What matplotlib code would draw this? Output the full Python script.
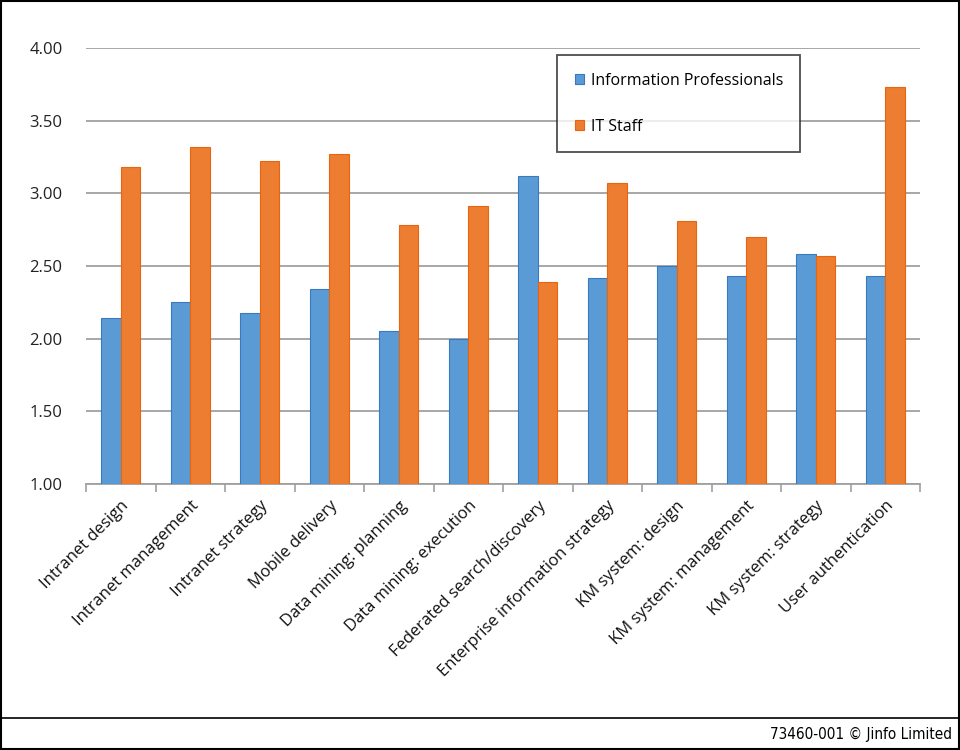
import matplotlib.pyplot as plt
import numpy as np
from matplotlib.lines import Line2D
from matplotlib.patches import Rectangle

plt.rcParams['font.family'] = ['Open Sans', 'DejaVu Sans']

categories = ['Intranet design', 'Intranet management', 'Intranet strategy',
              'Mobile delivery', 'Data mining: planning', 'Data mining: execution',
              'Federated search/discovery', 'Enterprise information strategy',
              'KM system: design', 'KM system: management', 'KM system: strategy',
              'User authentication']
info_pros = [2.14, 2.25, 2.18, 2.34, 2.05, 2.00, 3.12, 2.42, 2.50, 2.43, 2.58, 2.43]
it_staff = [3.18, 3.32, 3.22, 3.27, 2.78, 2.91, 2.39, 3.07, 2.81, 2.70, 2.57, 3.73]
yticks = [1.0, 1.5, 2.0, 2.5, 3.0, 3.5, 4.0]

blue = '#5B9BD5'
orange = '#ED7D31'

fig = plt.figure(figsize=(9.6, 7.5), dpi=100)
ax = fig.add_axes([86/960, 1-484/750, (920-86)/960, (484-48)/750])

x = np.arange(len(categories))
w = 0.28
ax.bar(x - w/2, np.array(info_pros) - 1, w, bottom=1, color=blue,
       edgecolor='#3A78C0', linewidth=0.8, label='Information Professionals', zorder=3)
ax.bar(x + w/2, np.array(it_staff) - 1, w, bottom=1, color=orange,
       edgecolor='#E8650F', linewidth=0.8, label='IT Staff', zorder=3)

ax.set_xlim(-0.5, len(categories) - 0.5)
ax.set_ylim(1, 4)
ax.set_yticks(yticks)
ax.set_yticklabels(['%.2f' % v for v in yticks], fontsize=12, color='#222222')
ax.tick_params(axis='y', length=0, pad=17)
ax.yaxis.grid(True, color='#a0a0a0', linewidth=1.3, zorder=0)

ax.set_xticks(x)
ax.set_xticklabels(categories, rotation=45, ha='right', rotation_mode='anchor',
                   fontsize=12, color='#111111')
ax.tick_params(axis='x', which='major', length=0, pad=10)
ax.set_xticks(np.arange(-0.5, len(categories)), minor=True)
ax.tick_params(axis='x', which='minor', length=6, color='#a0a0a0', width=1.2)

for s in ['top', 'right', 'left']:
    ax.spines[s].set_visible(False)
ax.spines['bottom'].set_color('#a0a0a0')
ax.spines['bottom'].set_linewidth(1.3)

leg = ax.legend(loc='upper left', bbox_to_anchor=((557-86)/834, (484-55)/436),
                fontsize=11.5, frameon=True, fancybox=False, handlelength=0.6,
                handleheight=0.6, handletextpad=0.4, labelspacing=1.9,
                borderpad=1.1, borderaxespad=0)
leg.get_frame().set_edgecolor('#222222')
leg.get_frame().set_linewidth(1.3)

# outer border and footer
fig.add_artist(Rectangle((0.001, 0.001), 0.998, 0.998, transform=fig.transFigure,
                         fill=False, edgecolor='black', linewidth=1.5))
fig.add_artist(Line2D([0, 1], [1-718/750, 1-718/750], transform=fig.transFigure,
                      color='black', linewidth=1.2))
fig.text(952/960, 1-734/750, '73460-001 \u00a9 Jinfo Limited', ha='right', va='center',
         fontsize=11, family=['DejaVu Sans'], stretch='condensed')

fig.savefig('out.png', dpi=100)
